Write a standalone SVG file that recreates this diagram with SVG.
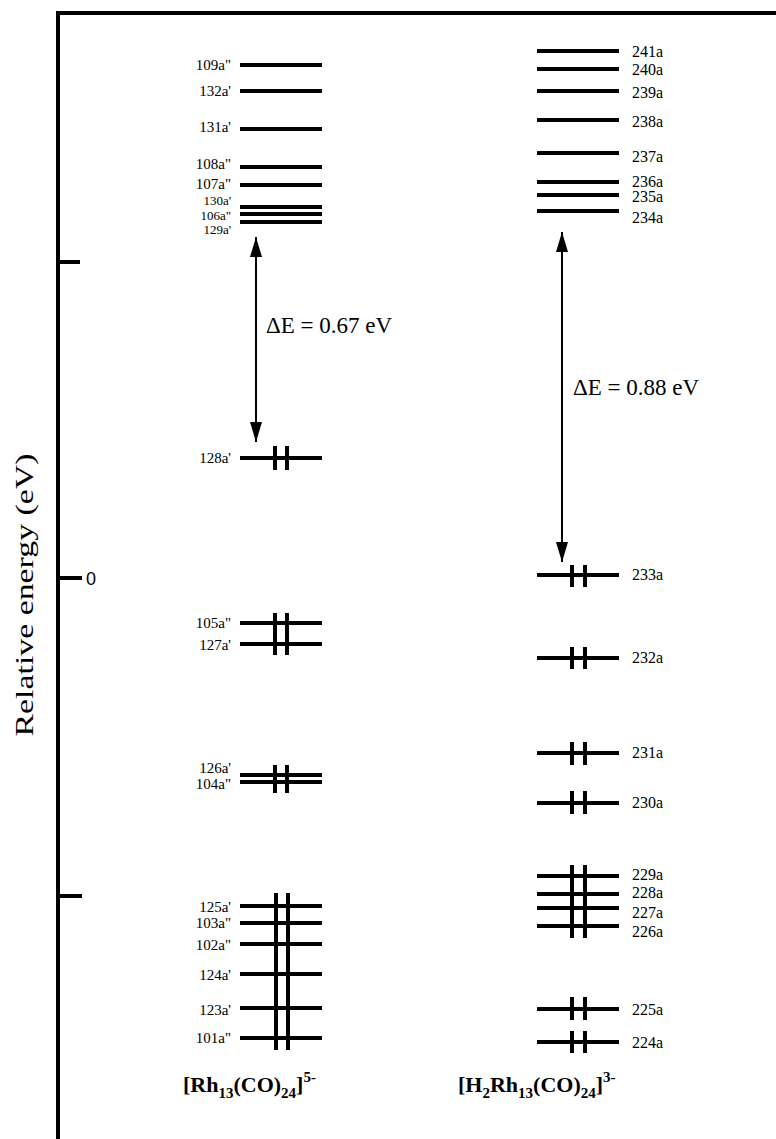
<svg xmlns="http://www.w3.org/2000/svg" width="776" height="1139" viewBox="0 0 776 1139">
<style>
.lv{stroke:#000;stroke-width:4;fill:none}
.e{stroke:#000;stroke-width:4;fill:none}
.ax{stroke:#000;stroke-width:4;fill:none}
.lb{font-family:"Liberation Serif","Times New Roman",serif;font-size:15px;fill:#000}
.sm{font-size:13px}
.lbr{font-family:"Liberation Serif","Times New Roman",serif;font-size:16px;fill:#000}
.de{font-family:"Liberation Serif","Times New Roman",serif;font-size:23px;fill:#000}
.ti{font-family:"Liberation Serif","Times New Roman",serif;font-size:22px;font-weight:bold;fill:#000}
.arr{stroke:#000;stroke-width:2;fill:none}
</style>
<defs>
<marker id="ah" viewBox="0 0 20 12" refX="20" refY="6" markerWidth="20" markerHeight="12" markerUnits="userSpaceOnUse" orient="auto-start-reverse">
<path d="M0,0 L20,6 L0,12 z" fill="#000"/>
</marker>
</defs>
<g id="axis">
<path class="ax" d="M58,1139 V13 H776"/>
<path class="ax" d="M58,262 H80 M58,578 H82 M58,896 H82"/>
<text x="86" y="585" style="font-family:'Liberation Sans',Arial,sans-serif;font-size:18px">0</text>
<text transform="translate(33,595) rotate(-90)" text-anchor="middle" textLength="283" lengthAdjust="spacingAndGlyphs" style="font-family:'Liberation Serif','Times New Roman',serif;font-size:26px">Relative energy (eV)</text>
</g>
<g id="rh13">
<path class="lv" d="M240,65 H322 M240,91 H322 M240,129 H322 M240,167 H322 M240,185 H322 M240,207 H322 M240,214 H322 M240,222 H322"/>
<path class="lv" d="M240,458 H322 M240,623 H322 M240,644 H322 M240,775 H322 M240,782 H322"/>
<path class="lv" d="M240,906 H322 M240,923 H322 M240,944 H322 M240,974 H322 M240,1008 H322 M240,1038 H322"/>
<path class="e" d="M275,446 V470 M287,446 V470 M275,613 V655 M287,613 V655 M275,765 V793 M287,765 V793 M276,893 V1050 M288,893 V1050"/>
<g class="lb" text-anchor="end">
<text x="231" y="70">109a"</text>
<text x="231" y="96">132a'</text>
<text x="231" y="132">131a'</text>
<text x="231" y="169">108a"</text>
<text x="231" y="189">107a"</text>
<text class="sm" x="231" y="205">130a'</text>
<text class="sm" x="231" y="219.5">106a"</text>
<text class="sm" x="231" y="234">129a'</text>
<text x="231" y="463">128a'</text>
<text x="231" y="628">105a"</text>
<text x="231" y="650">127a'</text>
<text x="231" y="773">126a'</text>
<text x="231" y="789">104a"</text>
<text x="231" y="912">125a'</text>
<text x="231" y="928">103a"</text>
<text x="231" y="950">102a"</text>
<text x="231" y="980">124a'</text>
<text x="231" y="1015">123a'</text>
<text x="231" y="1043">101a"</text>
</g>
<text class="ti" x="183" y="1092">[Rh<tspan dy="6" font-size="15">13</tspan><tspan dy="-6">(CO)</tspan><tspan dy="6" font-size="15">24</tspan><tspan dy="-6">]</tspan><tspan dy="-10" font-size="15">5-</tspan></text>
</g>
<g id="h2rh13">
<path class="lv" d="M537,51 H619 M537,69 H619 M537,91 H619 M537,120 H619 M537,153 H619 M537,182 H619 M537,195 H619 M537,211 H619"/>
<path class="lv" d="M537,575 H619 M537,658 H619 M537,753 H619 M537,803 H619"/>
<path class="lv" d="M537,876 H619 M537,894 H619 M537,908 H619 M537,926 H619 M537,1009 H619 M537,1042 H619"/>
<path class="e" d="M572,565 V587 M585,565 V587 M572,647 V669 M585,647 V669 M572,742 V765 M585,742 V765 M572,791 V814 M585,791 V814 M572,865 V938 M585,865 V938 M572,997 V1020 M585,997 V1020 M572,1031 V1053 M585,1031 V1053"/>
<g class="lbr">
<text x="632" y="57">241a</text>
<text x="632" y="75">240a</text>
<text x="632" y="98">239a</text>
<text x="632" y="127">238a</text>
<text x="632" y="162">237a</text>
<text x="632" y="187">236a</text>
<text x="632" y="202">235a</text>
<text x="632" y="223">234a</text>
<text x="632" y="580">233a</text>
<text x="632" y="663">232a</text>
<text x="632" y="758">231a</text>
<text x="632" y="808">230a</text>
<text x="632" y="880">229a</text>
<text x="632" y="898">228a</text>
<text x="632" y="918">227a</text>
<text x="632" y="937">226a</text>
<text x="632" y="1015">225a</text>
<text x="632" y="1048">224a</text>
</g>
<text class="ti" x="458" y="1092">[H<tspan dy="6" font-size="15">2</tspan><tspan dy="-6">Rh</tspan><tspan dy="6" font-size="15">13</tspan><tspan dy="-6">(CO)</tspan><tspan dy="6" font-size="15">24</tspan><tspan dy="-6">]</tspan><tspan dy="-10" font-size="15">3-</tspan></text>
</g>
<g id="connectors">
<line class="arr" x1="256" y1="237" x2="256" y2="442" marker-start="url(#ah)" marker-end="url(#ah)"/>
<line class="arr" x1="562" y1="232" x2="562" y2="562" marker-start="url(#ah)" marker-end="url(#ah)"/>
</g>
<text class="de" x="266" y="333">ΔE = 0.67 eV</text>
<text class="de" x="573" y="395">ΔE = 0.88 eV</text>
</svg>
